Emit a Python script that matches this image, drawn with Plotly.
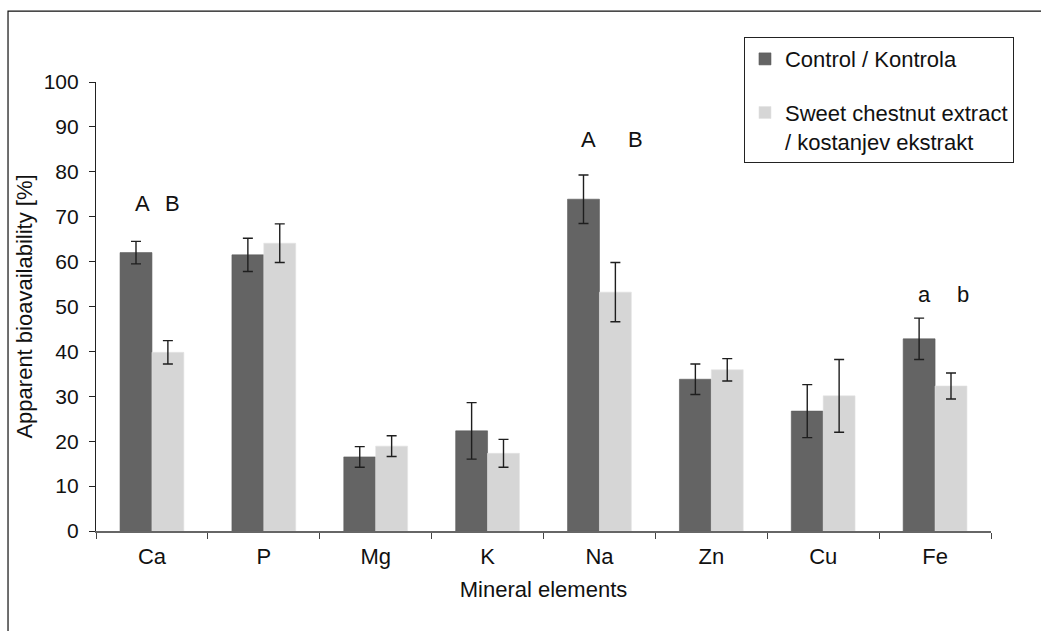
import plotly.graph_objects as go

elements = ["Ca", "P", "Mg", "K", "Na", "Zn", "Cu", "Fe"]
control = [62.0, 61.5, 16.5, 22.3, 73.9, 33.8, 26.7, 42.8]
control_err = [2.5, 3.7, 2.3, 6.3, 5.4, 3.4, 5.9, 4.6]
extract = [39.8, 64.1, 18.9, 17.3, 53.2, 35.9, 30.1, 32.3]
extract_err = [2.6, 4.3, 2.3, 3.1, 6.6, 2.5, 8.1, 2.9]

sig_elements = ["Ca", "Na", "Fe"]
sig_control = ["A", "A", "a"]
sig_extract = ["B", "B", "b"]
sig_y = [73.0, 87.1, 52.6]

name_control = "Control / Kontrola"
name_extract = "Sweet chestnut extract<br>/ kostanjev ekstrakt"

FONT = "Liberation Sans, Arial, sans-serif"
FS = 22
TXT = "#111"

fig = go.Figure()
fig.add_trace(go.Bar(
    x=elements, y=control, name=name_control, legendgroup="c",
    marker=dict(color="#646464", line=dict(color="#5a5a5a", width=0.6)),
    error_y=dict(type="data", array=control_err, visible=True,
                 color="#1e1e1e", thickness=1.4, width=5),
))
fig.add_trace(go.Bar(
    x=elements, y=extract, name=name_extract, legendgroup="e",
    marker=dict(color="#d6d6d6", line=dict(color="#e2e2e2", width=0.6)),
    error_y=dict(type="data", array=extract_err, visible=True,
                 color="#1e1e1e", thickness=1.4, width=5),
))

annotations = []
shift_c = [-9, -11, -11]
shift_e = [21, 36, 28]
for el, tc, te, yv, sc, se in zip(sig_elements, sig_control, sig_extract, sig_y, shift_c, shift_e):
    annotations.append(dict(x=el, y=yv, text=tc, xref="x", yref="y", showarrow=False,
                            xshift=sc, font=dict(family=FONT, size=FS, color=TXT)))
    annotations.append(dict(x=el, y=yv, text=te, xref="x", yref="y", showarrow=False,
                            xshift=se, font=dict(family=FONT, size=FS, color=TXT)))

fig.update_layout(
    width=1041, height=631,
    margin=dict(l=96, r=50, t=82, b=100),
    paper_bgcolor="white", plot_bgcolor="white",
    font=dict(family=FONT, size=FS, color=TXT),
    barmode="group", bargap=0.43, bargroupgap=0,
    showlegend=True,
    legend=dict(
        x=0.724, y=1.100, xanchor="left", yanchor="top",
        bordercolor="#222", borderwidth=1, bgcolor="white",
        font=dict(family=FONT, size=FS, color=TXT),
        traceorder="grouped", tracegroupgap=22, valign="top",
        itemwidth=30,
    ),
    annotations=annotations,
    shapes=[dict(type="rect", xref="paper", yref="paper",
                 x0=-0.0983, x1=1.2, y0=-0.4, y1=1.158,
                 line=dict(color="#111", width=1.2), fillcolor="rgba(0,0,0,0)", layer="below")],
    xaxis=dict(
        type="category", range=[-0.5, 7.5],
        showline=True, linecolor="#666", linewidth=1.6,
        ticks="outside", ticklen=6, tickcolor="#444", tickwidth=1.2,
        tickson="boundaries", ticklabelstandoff=5,
        showgrid=False, zeroline=False,
        tickfont=dict(family=FONT, size=FS, color=TXT),
        title=dict(text="Mineral elements", font=dict(family=FONT, size=FS, color=TXT), standoff=13),
    ),
    yaxis=dict(
        range=[0, 100], dtick=10, tick0=0,
        showline=True, linecolor="#222", linewidth=1.2,
        ticks="outside", ticklen=6, tickcolor="#222", tickwidth=1.2,
        ticklabelstandoff=6,
        showgrid=False, zeroline=False,
        tickfont=dict(family=FONT, size=21, color=TXT),
        title=dict(text="Apparent bioavailability [%]", font=dict(family=FONT, size=FS, color=TXT), standoff=4),
    ),
)

fig.write_html("out.html", config={"displayModeBar": False},
               post_script="document.body.style.margin='0';")
